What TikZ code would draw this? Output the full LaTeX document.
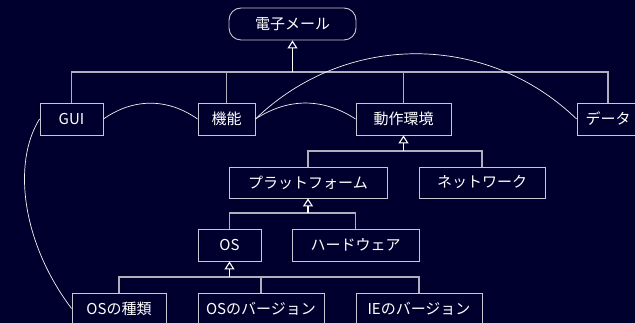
\documentclass[tikz,border=0pt]{standalone}
\usepackage{fontspec}
\setmainfont{Noto Sans CJK JP}
\usetikzlibrary{arrows.meta}
\definecolor{bgc}{RGB}{0,0,46}
\definecolor{boxc}{RGB}{200,200,210}
\definecolor{busc}{RGB}{175,175,190}
\begin{document}
\begin{tikzpicture}[x=1pt,y=1pt,
  box/.style={draw=boxc, line width=0.9pt, text=white, inner sep=0pt, minimum height=32pt, font=\fontsize{15}{17}\selectfont},
  bus/.style={draw=busc, line width=1.1pt},
  inh/.style={bus, -{Triangle[open, length=8pt, width=10pt]}, draw=white},
  arc/.style={draw=white!90!gray, line width=0.7pt}]
\fill[bgc] (0,0) rectangle (635,323);
\useasboundingbox (0,0) rectangle (635,323);
% nodes
\node[box, rounded corners=12pt, minimum width=127pt] (root) at (292.5,299) {電子メール};
\node[box, minimum width=63pt] (gui) at (71.5,204) {GUI};
\node[box, minimum width=57pt] (kino) at (226.5,204) {機能};
\node[box, minimum width=95pt] (dosa) at (403.5,204) {動作環境};
\node[box, minimum width=62pt] (data) at (608,204) {データ};
\node[box, minimum width=158pt, minimum height=31pt] (plat) at (308,140.5) {プラットフォーム};
\node[box, minimum width=126pt, minimum height=31pt] (net) at (482,140.5) {ネットワーク};
\node[box, minimum width=63pt] (os) at (229.5,78) {OS};
\node[box, minimum width=127pt] (hw) at (355.5,78) {ハードウェア};
\node[box, minimum width=94pt, minimum height=31pt] (osk) at (119,14.5) {OSの種類};
\node[box, minimum width=126pt, minimum height=31pt] (osv) at (261,14.5) {OSのバージョン};
\node[box, minimum width=126pt, minimum height=31pt] (iev) at (419,14.5) {IEのバージョン};
% hierarchy level 1
\coordinate (j1) at (292.5,251);
\draw[bus] (gui.north) |- (j1);
\draw[bus] (kino.north) |- (j1);
\draw[bus] (dosa.north) |- (j1);
\draw[bus] (data.north) |- (j1);
\draw[inh] (j1) -- (root.south);
% level 2
\coordinate (j2) at (403.5,172);
\draw[bus] (plat.north) |- (j2);
\draw[bus] (net.north) |- (j2);
\draw[inh] (j2) -- (dosa.south);
% level 3
\coordinate (j3) at (308,110);
\draw[bus] (os.north) |- (j3);
\draw[bus] (hw.north) |- (j3);
\draw[inh] (j3) -- (plat.south);
% level 4
\coordinate (j4) at (229.5,46);
\draw[bus] (osk.north) |- (j4);
\draw[bus] (osv.north) |- (j4);
\draw[bus] (iev.north) |- (j4);
\draw[inh] (j4) -- (os.south);
% associations
\draw[arc] (gui.east) to[bend left=35] (kino.west);
\draw[arc] (kino.east) to[bend left=33] (dosa.west);
\draw[arc] (kino.east) to[bend left=44] (data.west);
\draw[arc] (gui.west) .. controls (12,160) and (22,80) .. (osk.west);
\end{tikzpicture}
\end{document}
